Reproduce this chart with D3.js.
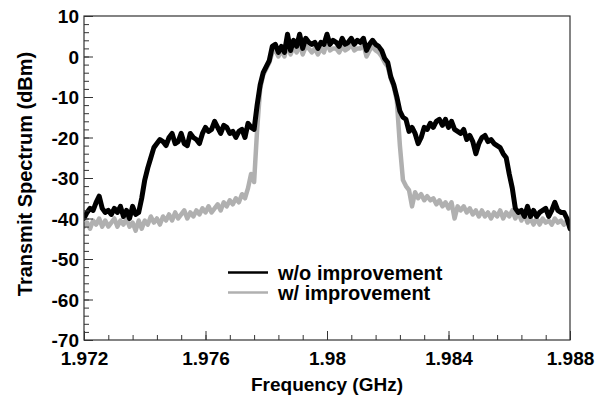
<!DOCTYPE html>
<html>
<head>
<meta charset="utf-8">
<script src="https://cdn.jsdelivr.net/npm/d3@7"></script>
<style>
  html, body { margin: 0; padding: 0; background: #fff; }
  svg text { font-family: "Liberation Sans", Arial, sans-serif; font-weight: bold; fill: #000; }
</style>
</head>
<body>
<svg id="chart" width="611" height="402"></svg>
<script>
// ---- data ----
// frequency grid: 1.9720 .. 1.9880 GHz in 0.0001 GHz steps (161 samples)
const freqStart = 1.972, freqStep = 0.0001, nSamples = 161;
const frequency = d3.range(nSamples).map(i => +(freqStart + i * freqStep).toFixed(4));

const withoutImprovement = [
  -40, -38.5, -37.5, -38, -36, -34.5, -37.5, -38.5, -38, -39,
  -37.5, -38.5, -37, -39.5, -38, -40, -37, -39, -38.5, -35,
  -30.5, -27.5, -25, -22.5, -21.5, -20.5, -21, -22, -20, -19,
  -21.5, -21, -19, -21.5, -22, -19, -20, -20.5, -21.5, -19,
  -17.5, -18.5, -18, -16, -17.5, -19, -17, -17.5, -19, -18.5,
  -20, -18.5, -18, -20, -16.5, -17.5, -18, -12, -7, -4,
  -2.5, -1, 2.5, 3, 1, 2.5, 1, 5.5, 1.5, 4,
  2.5, 5.5, 2, 4.5, 3.5, 3, 3.5, 2, 3.5, 3,
  5.5, 3, 4, 3.5, 2.5, 4.5, 3, 3.5, 4.5, 3,
  4, 3.5, 4.5, 1.5, 3, 4, 3, 2.5, 1.5, -0.5,
  -1.5, -5, -7, -10, -13.5, -15, -15.5, -18.5, -17.5, -19,
  -21.5, -20, -17.5, -18, -16.5, -17.5, -16, -15.5, -17, -15.5,
  -17.5, -16, -18, -18.5, -19, -18, -20.5, -19.5, -21, -24,
  -21.5, -20, -19.5, -21, -20.5, -21.5, -22, -22.5, -24, -25,
  -29, -32.5, -37.5, -38.5, -38, -39.5, -37, -39.5, -38, -39.5,
  -38.5, -38, -37.5, -39.5, -38, -36, -38, -38.5, -38.5, -40,
  -42.5
];

const withImprovement = [
  -42, -41, -42.5, -40.5, -41.5, -40, -42, -40.5, -42, -41,
  -40, -42, -40.5, -41.5, -40, -42, -41, -43, -40.5, -42.5,
  -40.5, -41.5, -39.5, -41, -40, -41.5, -39.5, -40.5, -39, -40.5,
  -38.5, -40, -39, -38, -40, -38.5, -39.5, -38, -39, -37.5,
  -38.5, -37, -38.5, -37.5, -36.5, -38, -36, -37, -35.5, -36.5,
  -35, -36, -34, -35, -32.5, -29, -31, -18, -8, -4.5,
  -3, -1.5, 1, 1.5, 0, 1.5, 0, 3, 0.5, 2.5,
  1, 3, 0.5, 2.5, 2, 1, 2, 0.5, 2, 1,
  3.5, 1.5, 2, 2, 1, 2.5, 1.5, 2, 3, 1.5,
  2, 2, 3, 0, 1.5, 2.5, 1.5, 1, 0, -1.5,
  -2.5, -5.5, -7.5, -11, -22, -30.5, -32, -33, -37, -33.5,
  -35, -34, -35.5, -34.5, -35.5, -35, -36.5, -35.5, -37, -36,
  -37.5, -36, -40, -37, -38, -37, -38.5, -37.5, -39, -38,
  -39.5, -38, -39.5, -38.5, -40, -38.5, -39.5, -38, -40, -38.5,
  -39.5, -38, -40, -38.5, -40.5, -39, -41, -40, -41.5, -40,
  -41.5, -40, -41, -40.5, -41.5, -40, -41, -40.5, -41.5, -40.5,
  -41
];

const xTickValues = [1.972, 1.976, 1.98, 1.984, 1.988];
const xTickLabels = ["1.972", "1.976", "1.98", "1.984", "1.988"];
const yTickValues = [10, 0, -10, -20, -30, -40, -50, -60, -70];
const yTickLabels = ["10", "0", "-10", "-20", "-30", "-40", "-50", "-60", "-70"];
const seriesNames = ["w/o improvement", "w/ improvement"];
const seriesColors = ["#000000", "#b0b0b0"];

// ---- layout ----
const svg = d3.select("#chart");
const margin = { left: 84, top: 16, right: 41, bottom: 62 };
const W = 611, H = 402;
const x = d3.scaleLinear().domain([1.972, 1.988]).range([margin.left, W - margin.right]);
const y = d3.scaleLinear().domain([-70, 10]).range([H - margin.bottom, margin.top]);

const fontSize = 19;

// curves
const line = d3.line()
  .x((d, i) => x(frequency[i]))
  .y(d => y(d))
  .curve(d3.curveLinear);

const clipId = "plotclip";
svg.append("defs").append("clipPath").attr("id", clipId)
  .append("rect")
  .attr("x", x.range()[0]).attr("y", y.range()[1])
  .attr("width", x.range()[1] - x.range()[0])
  .attr("height", y.range()[0] - y.range()[1]);

const plot = svg.append("g").attr("clip-path", `url(#${clipId})`);
plot.append("path").datum(withImprovement)
  .attr("d", line)
  .attr("fill", "none")
  .attr("stroke", seriesColors[1])
  .attr("stroke-width", 4.5)
  .attr("stroke-linejoin", "round")
  .attr("stroke-linecap", "round");
plot.append("path").datum(withoutImprovement)
  .attr("d", line)
  .attr("fill", "none")
  .attr("stroke", seriesColors[0])
  .attr("stroke-width", 5)
  .attr("stroke-linejoin", "round")
  .attr("stroke-linecap", "round");

// axes with inward ticks
const xMinor = d3.range(0, 21).map(i => 1.972 + i * 0.0008);
const yMinor = d3.range(0, 41).map(i => -70 + i * 2);

const xAxisMinor = d3.axisBottom(x).tickValues(xMinor).tickSize(-5).tickFormat("");
const xAxisMajor = d3.axisBottom(x).tickValues(xTickValues).tickSize(-9)
  .tickFormat((d, i) => xTickLabels[i]).tickPadding(12);
const yAxisMinor = d3.axisLeft(y).tickValues(yMinor).tickSize(-5).tickFormat("");
const yAxisMajor = d3.axisLeft(y).tickValues(yTickValues).tickSize(-9)
  .tickFormat((d, i) => yTickLabels[i]).tickPadding(5);

function styleAxis(g) {
  g.select(".domain").remove();
  g.selectAll(".tick line").attr("stroke", "#333").attr("stroke-width", 1);
  g.selectAll(".tick text").attr("font-size", fontSize)
    .attr("font-family", "'Liberation Sans', Arial, sans-serif")
    .attr("font-weight", "bold").attr("fill", "#000");
}

svg.append("g").attr("transform", `translate(0,${y(-70)})`).call(xAxisMinor).call(styleAxis);
svg.append("g").attr("transform", `translate(0,${y(-70)})`).call(xAxisMajor).call(styleAxis)
  .selectAll(".tick text").attr("y", 11).attr("dy", "0.72em");
svg.append("g").attr("transform", `translate(${x(1.972)},0)`).call(yAxisMinor).call(styleAxis);
svg.append("g").attr("transform", `translate(${x(1.972)},0)`).call(yAxisMajor).call(styleAxis)
  .selectAll(".tick text").attr("dy", "0.36em");

// frame
svg.append("rect")
  .attr("x", x.range()[0]).attr("y", y.range()[1])
  .attr("width", x.range()[1] - x.range()[0])
  .attr("height", y.range()[0] - y.range()[1])
  .attr("fill", "none").attr("stroke", "#333").attr("stroke-width", 1.2);

// axis titles
svg.append("text")
  .attr("x", (x.range()[0] + x.range()[1]) / 2)
  .attr("y", 391)
  .attr("text-anchor", "middle")
  .attr("font-size", fontSize)
  .text("Frequency (GHz)");

svg.append("text")
  .attr("transform", `translate(32,${(y.range()[0] + y.range()[1]) / 2 - 4}) rotate(-90)`)
  .attr("text-anchor", "middle")
  .attr("font-size", 20)
  .text("Transmit Spectrum (dBm)");

// legend
const legend = svg.append("g").attr("transform", "translate(228,272.5)");
seriesNames.forEach((name, i) => {
  const row = legend.append("g").attr("transform", `translate(0,${i * 20})`);
  row.append("line").attr("x1", 0).attr("x2", 40).attr("y1", 0).attr("y2", 0)
    .attr("stroke", seriesColors[i]).attr("stroke-width", 2.5);
  row.append("text").attr("x", 50).attr("y", 0).attr("dy", "0.35em")
    .attr("font-size", 20).text(name);
});
</script>
</body>
</html>
